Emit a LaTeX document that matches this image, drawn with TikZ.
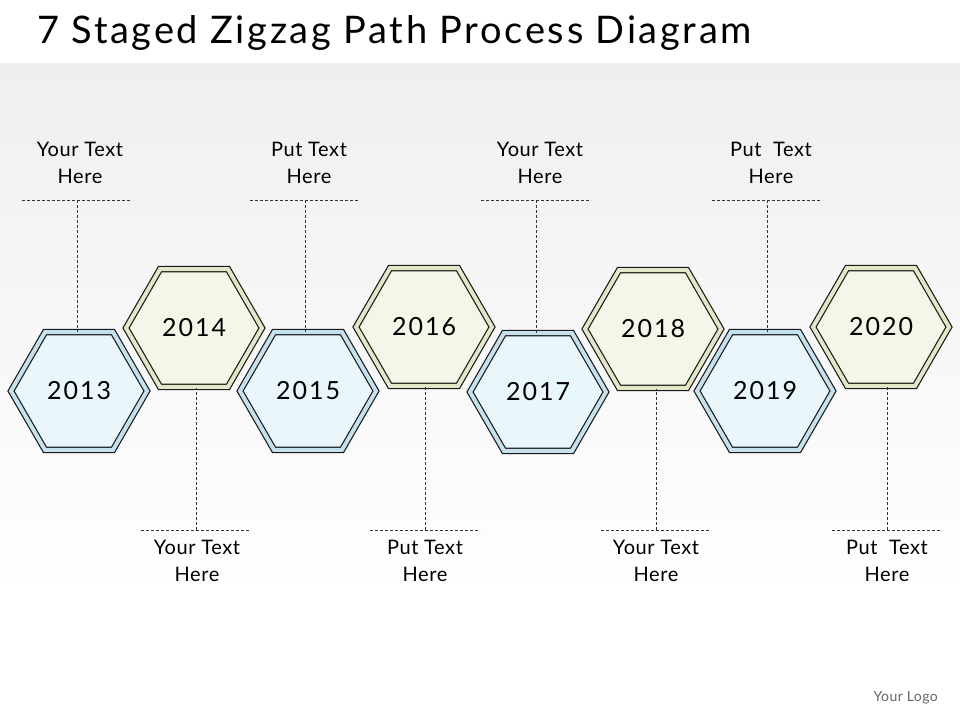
\documentclass[tikz,border=0pt]{standalone}
\usepackage{fontspec}
\setmainfont{Lato}
\usetikzlibrary{shapes.geometric}
\definecolor{fillB}{HTML}{E9F6FC}
\definecolor{bandB}{HTML}{C6E1EE}
\definecolor{fillG}{HTML}{F4F7E7}
\definecolor{bandG}{HTML}{E3E7C8}
\definecolor{bgtop}{HTML}{EFEFEF}
\newfontfamily\yearfont[LetterSpace=8]{Lato}
\newfontfamily\labelfont[LetterSpace=3]{Lato}
\newfontfamily\titlefont[LetterSpace=7]{Lato}
\tikzset{
  hexbase/.style={regular polygon, regular polygon sides=6,
    minimum size=136pt, inner sep=0pt, draw=black!90, line width=1.2pt,
    double distance=4pt, font=\yearfont\fontsize{25}{28}\selectfont},
  hexb/.style={hexbase, double=bandB, fill=fillB},
  hexg/.style={hexbase, double=bandG, fill=fillG},
  lbl/.style={align=center, font=\labelfont\fontsize{20}{27}\selectfont, inner sep=0pt},
  dline/.style={draw=black!80, line width=0.6pt, dash pattern=on 3pt off 2pt},
}
\begin{document}
\begin{tikzpicture}[x=1pt,y=-1pt]
\useasboundingbox (0,0) rectangle (960,720);
\fill[white] (0,0) rectangle (960,720);
\shade[top color=bgtop, bottom color=white] (0,63) rectangle (960,600);

\node[anchor=west, font=\titlefont\fontsize{38}{42}\selectfont, inner sep=0pt] (title) at (37,33) {7 Staged Zigzag Path Process Diagram};

% hexagons
\node[hexb] (h1) at (79,391) {2013};
\node[hexg] (h2) at (194,328) {2014};
\node[hexb] (h3) at (308,391) {2015};
\node[hexg] (h4) at (424,327) {2016};
\node[hexb] (h5) at (538,392) {2017};
\node[hexg] (h6) at (653,329) {2018};
\node[hexb] (h7) at (765,391) {2019};
\node[hexg] (h8) at (881,327) {2020};

% top labels
\node[lbl] (t1) at (80,163) {Your Text\\Here};
\node[lbl] (t3) at (309,163) {Put Text\\Here};
\node[lbl] (t5) at (540,163) {Your Text\\Here};
\node[lbl] (t7) at (771,163) {Put\ \ Text\\Here};
\coordinate (a1) at (77,200);
\coordinate (a3) at (305,200);
\coordinate (a5) at (536,200);
\coordinate (a7) at (767,200);
\foreach \i in {1,3,5,7}{
  \draw[dline] ([xshift=-55pt]a\i) -- ([xshift=55pt]a\i);
  \draw[dline] (a\i) -- (a\i |- h\i.north);
}

% bottom labels
\node[lbl] (b2) at (197,561) {Your Text\\Here};
\node[lbl] (b4) at (425,561) {Put Text\\Here};
\node[lbl] (b6) at (656,561) {Your Text\\Here};
\node[lbl] (b8) at (887,561) {Put\ \ Text\\Here};
\coordinate (c2) at (196,530);
\coordinate (c4) at (425,530);
\coordinate (c6) at (656,530);
\coordinate (c8) at (887,530);
\foreach \i in {2,4,6,8}{
  \draw[dline] ([xshift=-55pt]c\i) -- ([xshift=55pt]c\i);
  \draw[dline] (c\i) -- (c\i |- h\i.south);
}

\node[font=\labelfont\fontsize{14}{16}\selectfont, text=black!60, anchor=east, inner sep=0pt] (logo) at (938,698) {Your Logo};
\end{tikzpicture}
\end{document}
